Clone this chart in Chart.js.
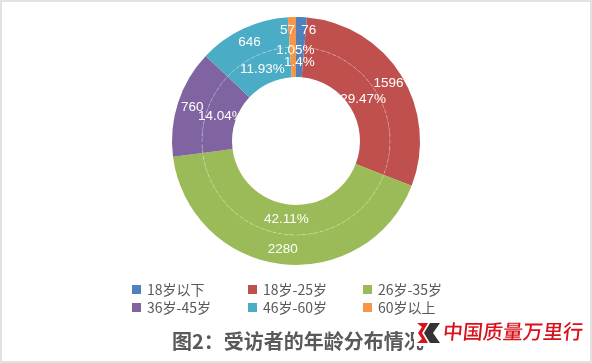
<!DOCTYPE html>
<html>
<head>
<meta charset="utf-8">
<script src="https://cdn.jsdelivr.net/npm/chart.js@4/dist/chart.umd.min.js"></script>
<style>
  html, body { margin: 0; padding: 0; background: #fff; }
  #wrap { position: relative; width: 592px; height: 363px; box-sizing: border-box;
          border: 2px solid #e2e2e2; overflow: hidden; background: #fff; }
  #c { position: absolute; left: -2px; top: -2px; }
  .leg { position: absolute; font-family: "Noto Sans CJK SC", sans-serif; font-size: 14px;
         color: #595959; line-height: 16px; white-space: nowrap; }
  .box { position: absolute; width: 9px; height: 9px; }
  #title { position: absolute; left: 170px; top: 326px; font-family: "Noto Sans CJK SC", sans-serif;
           font-weight: bold; font-size: 20px; color: #595959; line-height: 26px; white-space: nowrap; }
  #wm { position: absolute; left: 441px; top: 316px; font-family: "Noto Sans CJK SC", sans-serif;
        font-weight: 500; font-size: 20px; color: #d8111b; line-height: 26px; white-space: nowrap;
        transform: skewX(-6deg); background: transparent; }
  #logo { position: absolute; left: 412px; top: 318px; }
</style>
</head>
<body>
<div id="wrap">
  <canvas id="c" width="592" height="363"></canvas>
</div>
<script>
// ---- data ----
const categories = ["18岁以下", "18岁-25岁", "26岁-35岁", "36岁-45岁", "46岁-60岁", "60岁以上"];
const counts = [76, 1596, 2280, 760, 646, 57];
const percentLabels = ["1.4%", "29.47%", "42.11%", "14.04%", "11.93%", "1.05%"];
const titleText = "图2：受访者的年龄分布情况";
const watermarkText = "中国质量万里行";

const colors = ["#4F81BD", "#C0504D", "#9BBB59", "#8064A2", "#4BACC6", "#F79646"];

const wrap = document.getElementById('wrap');

// legend (HTML, real text)
const legCols = [130, 246, 361];
const legRows = [282, 300];
categories.forEach((name, i) => {
  const col = i % 3, row = Math.floor(i / 3);
  const b = document.createElement('div');
  b.className = 'box';
  b.style.left = legCols[col] + 'px';
  b.style.top = (legRows[row] + 1) + 'px';
  b.style.background = colors[i];
  wrap.appendChild(b);
  const t = document.createElement('div');
  t.className = 'leg';
  t.style.left = (legCols[col] + 15) + 'px';
  t.style.top = (legRows[row] - 3) + 'px';
  t.textContent = name;
  wrap.appendChild(t);
});

const title = document.createElement('div');
title.id = 'title';
title.textContent = titleText;
wrap.appendChild(title);

// watermark logo (chevrons) + text
const logo = document.createElementNS('http://www.w3.org/2000/svg', 'svg');
logo.setAttribute('id', 'logo');
logo.setAttribute('width', '28');
logo.setAttribute('height', '26');
logo.innerHTML =
  '<rect x="0" y="0" width="28" height="26" fill="#fff"/>' +
  '<polygon points="3,3 14,3 8,13 14,23 3,23 8,19 4,13 8,7" fill="#d8111b"/>' +
  '<polygon points="16,3 26,3 19,13 26,23 16,23 10,13" fill="#333"/>';
wrap.appendChild(logo);

const wm = document.createElement('div');
wm.id = 'wm';
wm.textContent = watermarkText;
wrap.appendChild(wm);

// label plugin
const labelOffsets = { 0: { 0: [8, -2], 5: [-5, -2] }, 1: { 5: [2, -12] } };
const ringLabels = {
  id: 'ringLabels',
  afterDatasetsDraw(chart) {
    const ctx = chart.ctx;
    ctx.save();
    // faint dashed separator between the rings
    const m0 = chart.getDatasetMeta(0);
    const a0 = m0.data[0];
    if (a0) {
      ctx.beginPath();
      ctx.setLineDash([3, 3]);
      ctx.strokeStyle = 'rgba(255,255,255,0.38)';
      ctx.lineWidth = 0.8;
      ctx.arc(a0.x, a0.y, a0.innerRadius, 0, Math.PI * 2);
      ctx.stroke();
      ctx.setLineDash([]);
    }
    ctx.font = '13.5px "Liberation Sans", sans-serif';
    ctx.fillStyle = '#ffffff';
    ctx.textAlign = 'center';
    ctx.textBaseline = 'middle';
    chart.data.datasets.forEach((ds, di) => {
      const meta = chart.getDatasetMeta(di);
      meta.data.forEach((el, i) => {
        const p = el.tooltipPosition();
        const off = (labelOffsets[di] && labelOffsets[di][i]) || [0, 0];
        ctx.fillText(ds.labelsText[i], p.x + off[0], p.y + off[1]);
      });
    });
    ctx.restore();
  }
};

new Chart(document.getElementById('c'), {
  type: 'doughnut',
  data: {
    labels: categories,
    datasets: [
      { data: counts, backgroundColor: colors, borderWidth: 0,
        labelsText: counts.map(String) },
      { data: counts, backgroundColor: colors, borderWidth: 0,
        labelsText: percentLabels }
    ]
  },
  options: {
    responsive: false,
    animation: false,
    cutout: '51.6%',
    layout: { padding: { top: 17, bottom: 98, left: 0, right: 0 } },
    plugins: { legend: { display: false }, tooltip: { enabled: false } }
  },
  plugins: [ringLabels]
});
</script>
</body>
</html>
